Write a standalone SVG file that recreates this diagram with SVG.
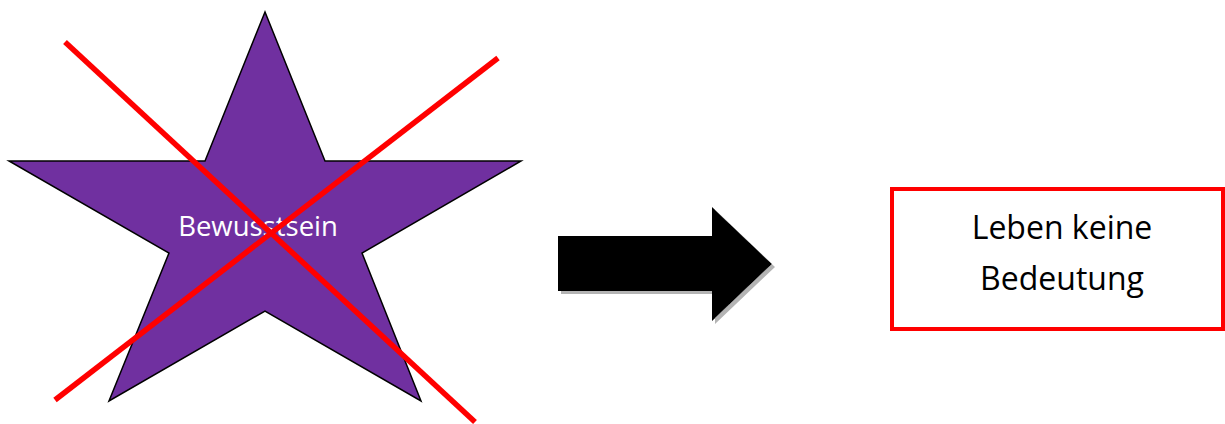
<svg xmlns="http://www.w3.org/2000/svg" width="1225" height="424" viewBox="0 0 1225 424">
  <style>
    .lbl { font-family: "Open Sans", "Noto Sans", "Liberation Sans", sans-serif; text-anchor: middle; }
    .cross { stroke: #ff0000; stroke-width: 5.5; fill: none; }
  </style>
  <defs>
    <filter id="shadow" x="-10%" y="-10%" width="130%" height="130%">
      <feOffset dx="3" dy="3" in="SourceAlpha" result="off"/>
      <feFlood flood-color="#b4b4b4"/>
      <feComposite in2="off" operator="in" result="sh"/>
      <feMerge><feMergeNode in="sh"/><feMergeNode in="SourceGraphic"/></feMerge>
    </filter>
  </defs>
  <rect width="1225" height="424" fill="#ffffff"/>
  <g id="star">
    <polygon points="265,12 205,161 9,161 169,253 109,401 265,311 421,401 362,253 521,161 325,161" fill="#7030a0" stroke="#000000" stroke-width="1.5" stroke-linejoin="miter"/>
    <text class="lbl" x="258" y="236" font-size="27.5" fill="#ffffff">Bewusstsein</text>
  </g>
  <g id="cross">
    <line class="cross" x1="65" y1="42" x2="475" y2="422"/>
    <line class="cross" x1="498" y1="58" x2="55" y2="400"/>
  </g>
  <g id="connectors">
    <polygon points="558,236 712,236 712,207 772,264 712,321 712,291 558,291" fill="#000000" filter="url(#shadow)"/>
  </g>
  <g id="result">
    <rect x="892" y="189" width="331" height="140" fill="#ffffff" stroke="#ff0000" stroke-width="4"/>
    <text class="lbl" x="1062" y="239" font-size="32" fill="#000000">Leben keine</text>
    <text class="lbl" x="1062" y="290" font-size="32" fill="#000000">Bedeutung</text>
  </g>
</svg>
